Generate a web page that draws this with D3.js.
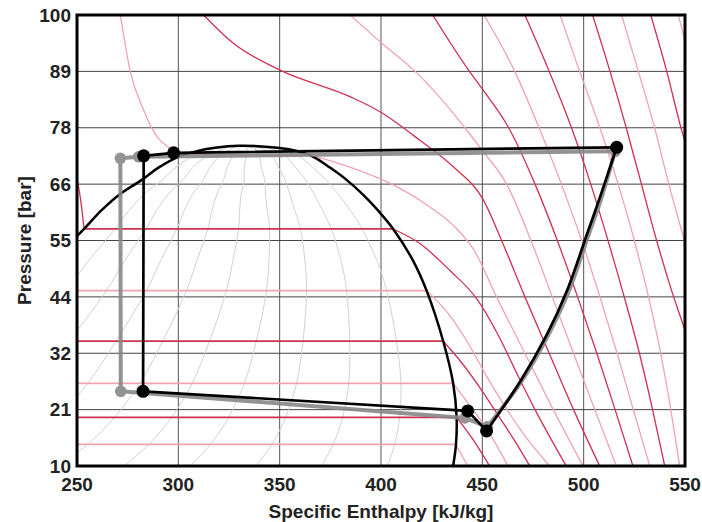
<!DOCTYPE html>
<html>
<head>
<meta charset="utf-8">
<script src="https://cdn.jsdelivr.net/npm/d3@7"></script>
<style>
  body { margin: 0; background: #fff; }
  text { font-family: "Liberation Sans", Arial, sans-serif; font-weight: bold; fill: #222; }
</style>
</head>
<body>
<div id="chart"></div>
<script>
// axis ticks
const hTicks = [250, 300, 350, 400, 450, 500, 550];
const pTicks = [10, 21.25, 32.5, 43.75, 55, 66.25, 77.5, 88.75, 100];
const pTickLabels = ["10", "21", "32", "44", "55", "66", "78", "89", "100"];

// saturation dome: pressure [bar], liquid and vapour enthalpy [kJ/kg]
const satP  = [10, 14.3, 19.7, 26.5, 34.9, 45.0, 51.0, 57.3, 61.0, 64.2, 67.1, 69.5, 71.7, 72.9, 73.5, 73.9];
const satHl = [111, 134, 156, 178, 200, 225, 238, 253.5, 262, 271, 282, 290, 300, 310, 318, 330];
const satHv = [435.6, 437, 437.3, 435.6, 430.7, 422.5, 415.8, 406, 398.5, 391, 383, 375, 366.6, 358, 349, 330];

// vapour quality lines inside the dome
const qualities = [0.1, 0.2, 0.3, 0.4, 0.5, 0.6, 0.7, 0.8, 0.9];

// isotherms [degC], each a list of [h, P]
const isoTemps = [-30, -20, -10, 0, 10, 20, 30, 40, 50, 60, 70, 80, 90, 100, 110, 120, 130];
const isoPoints = [
  [[134, 14.3], [437, 14.3], [440, 12], [443, 10]],
  [[156, 19.7], [437.3, 19.7], [445, 15.5], [453.6, 10]],
  [[178, 26.5], [435.6, 26.5], [444, 22], [452, 17.5], [462.7, 10]],
  [[200, 34.9], [430.7, 34.9], [440, 30.5], [449, 25.5], [458, 20], [466, 15], [473.4, 10]],
  [[225, 45], [422.5, 45], [433, 40.5], [443, 34.5], [452, 28], [461, 22], [471, 16], [483.2, 10]],
  [[249.5, 68.5], [252, 62.5], [253.5, 57.3], [406, 57.3], [419.2, 54.4], [434, 49], [447, 43.5], [458, 36], [467, 28.5], [476, 21.25], [491.4, 10]],
  [[271.4, 100], [276.3, 88.7], [282.9, 81], [289.5, 75.7], [296, 73.4], [301, 72.1], [365, 72.1], [385, 69.6], [405, 66.3], [423, 62], [437, 57.5], [446, 53], [457, 43.75], [471, 32.5], [485, 21.25], [499.7, 10]],
  [[312.5, 100], [327, 94.4], [350.2, 89], [384.7, 83.7], [399.5, 80.7], [419.2, 75], [435.7, 69.7], [450.5, 63.1], [459.5, 55], [471, 43.75], [483, 32.5], [495, 21.25], [507.9, 10]],
  [[384.7, 100], [400, 94.5], [418, 88.3], [441, 77.7], [449.7, 73.1], [462, 66.25], [474, 55], [484.5, 43.75], [495, 32.5], [505.5, 21.25], [516.1, 10]],
  [[425.5, 100], [443.9, 88.6], [449.7, 85.4], [463, 77.5], [476, 66.25], [487, 55], [497, 43.75], [506.5, 32.5], [515.5, 21.25], [524.3, 10]],
  [[450.8, 100], [466, 88.75], [478, 77.5], [489, 66.25], [499, 55], [508, 43.75], [516.5, 32.5], [524.5, 21.25], [532.6, 10]],
  [[471, 100], [483, 88.75], [494, 77.5], [503.5, 66.25], [512, 55], [520, 43.75], [527.5, 32.5], [534, 21.25], [540, 10]],
  [[488.3, 100], [498, 88.75], [508, 77.5], [517, 66.25], [525, 55], [532, 43.75], [538, 32.5], [543, 21.25], [547.4, 10]],
  [[504.4, 100], [513, 88.75], [521, 77.5], [528.5, 66.25], [536, 55], [543, 45.5], [550, 37], [556, 29]],
  [[518.7, 100], [527, 88.75], [535, 77.5], [542, 66.25], [549, 56], [556, 46]],
  [[533.1, 100], [541, 88.75], [548, 77.5], [552, 72], [558, 60]],
  [[546.7, 100], [551, 93], [556, 82]]
];

// measured cycle (black)
const cycleH = [282.6, 282.9, 297.7, 516.3, 452.1, 442.8];
const cycleP = [24.9, 71.9, 72.5, 73.6, 17.0, 21.0];
const compH = [452.1, 468.6, 481.7, 491.6, 501.5, 508.1, 516.3];
const compP = [17.0, 26.8, 36.1, 44.8, 56.1, 63.7, 73.6];

// reference cycle (grey)
const refH = [271.6, 271.4, 280.4, 515.5, 452.4, 441.4];
const refP = [24.9, 71.4, 71.7, 72.8, 17.8, 19.6];
const refCompH = [452.4, 469.8, 483, 492.8, 502.3, 508.7, 515.5];
const refCompP = [17.8, 27.2, 36.5, 45, 56, 63.4, 72.8];

const margin = { top: 15, right: 17, bottom: 56, left: 77 },
  width = 702 - margin.left - margin.right,
  height = 522 - margin.top - margin.bottom;

const svg = d3.select("#chart")
  .append("svg")
  .attr("width", 702)
  .attr("height", 522)
  .append("g")
  .attr("transform", `translate(${margin.left},${margin.top})`);

const x = d3.scaleLinear().domain([250, 550]).range([0, width]);
const y = d3.scaleLinear().domain([10, 100]).range([height, 0]);

svg.append("clipPath").attr("id", "plot")
  .append("rect").attr("width", width).attr("height", height);

// grid
const grid = svg.append("g");
grid.selectAll("line.v").data(hTicks).join("line")
  .attr("x1", d => x(d)).attr("x2", d => x(d))
  .attr("y1", 0).attr("y2", height)
  .attr("stroke", "#555").attr("stroke-width", 1);
grid.selectAll("line.h").data(pTicks).join("line")
  .attr("x1", 0).attr("x2", width)
  .attr("y1", d => y(d)).attr("y2", d => y(d))
  .attr("stroke", "#444").attr("stroke-width", 1);

const plot = svg.append("g").attr("clip-path", "url(#plot)");

// quality lines
const qLine = d3.line().x(d => x(d[0])).y(d => y(d[1])).curve(d3.curveCatmullRom);
plot.selectAll("path.q").data(qualities).join("path")
  .attr("d", q => qLine(satP.map((p, i) => [satHl[i] + q * (satHv[i] - satHl[i]), p])))
  .attr("fill", "none").attr("stroke", "#d2d2d2").attr("stroke-width", 1);

// isotherms: flat parts straight, the rest smooth
const isoCurve = d3.line().x(d => x(d[0])).y(d => y(d[1])).curve(d3.curveMonotoneX);
isoPoints.forEach((pts, k) => {
  const dark = isoTemps[k] % 20 === 0;
  const col = dark ? "#d03050" : "#f0a3b1";
  let run = [pts[0]];
  for (let i = 1; i < pts.length; i++) {
    if (pts[i][1] === pts[i - 1][1]) {
      if (run.length > 1) plot.append("path").attr("d", isoCurve(run))
        .attr("fill", "none").attr("stroke", col).attr("stroke-width", 1.3);
      plot.append("line")
        .attr("x1", x(pts[i - 1][0])).attr("x2", x(pts[i][0]))
        .attr("y1", y(pts[i][1])).attr("y2", y(pts[i][1]))
        .attr("stroke", col).attr("stroke-width", 1.8);
      run = [pts[i]];
    } else {
      run.push(pts[i]);
    }
  }
  if (run.length > 1) plot.append("path").attr("d", isoCurve(run))
    .attr("fill", "none").attr("stroke", col).attr("stroke-width", 1.3);
});

// saturation dome
const domePts = satP.map((p, i) => [satHl[i], p])
  .concat(satP.slice(0, -1).map((p, i) => [satHv[i], p]).reverse());
plot.append("path")
  .attr("d", d3.line().x(d => x(d[0])).y(d => y(d[1])).curve(d3.curveCatmullRom)(domePts))
  .attr("fill", "none").attr("stroke", "#000").attr("stroke-width", 2.5);

// cycles
function drawCycle(hs, ps, ch, cp, col, w, r, op) {
  const g = svg.append("g").attr("opacity", op);
  const lin = d3.line().x(d => x(d[0])).y(d => y(d[1]));
  const st = hs.map((h, i) => [h, ps[i]]);
  g.append("path").attr("d", lin([st[4], st[5], st[0], st[1], st[2], st[3]]))
    .attr("fill", "none").attr("stroke", col).attr("stroke-width", w)
    .attr("stroke-linejoin", "round");
  g.append("path").attr("d", lin.curve(d3.curveCatmullRom)(ch.map((h, i) => [h, cp[i]])))
    .attr("fill", "none").attr("stroke", col).attr("stroke-width", w);
  g.selectAll("circle").data(st).join("circle")
    .attr("cx", d => x(d[0])).attr("cy", d => y(d[1])).attr("r", r)
    .attr("fill", col);
}
drawCycle(refH, refP, refCompH, refCompP, "#888", 4, 5.8, 0.9);
drawCycle(cycleH, cycleP, compH, compP, "#000", 2.7, 6.5, 1);

// frame
svg.append("rect").attr("width", width).attr("height", height)
  .attr("fill", "none").attr("stroke", "#000").attr("stroke-width", 3);

// tick labels
svg.append("g").selectAll("text").data(hTicks).join("text")
  .attr("x", d => x(d)).attr("y", height + 25)
  .attr("text-anchor", "middle").style("font-size", "19px")
  .text(d => d);
svg.append("g").selectAll("text").data(pTicks).join("text")
  .attr("x", -6).attr("y", d => y(d)).attr("dy", "0.35em")
  .attr("text-anchor", "end").style("font-size", "19px")
  .text((d, i) => pTickLabels[i]);

// axis titles
svg.append("text")
  .attr("x", width / 2).attr("y", height + 52)
  .attr("text-anchor", "middle").style("font-size", "19px")
  .text("Specific Enthalpy [kJ/kg]");
svg.append("text")
  .attr("transform", `translate(${-46},${height / 2}) rotate(-90)`)
  .attr("text-anchor", "middle").style("font-size", "19px")
  .text("Pressure [bar]");
</script>
</body>
</html>
